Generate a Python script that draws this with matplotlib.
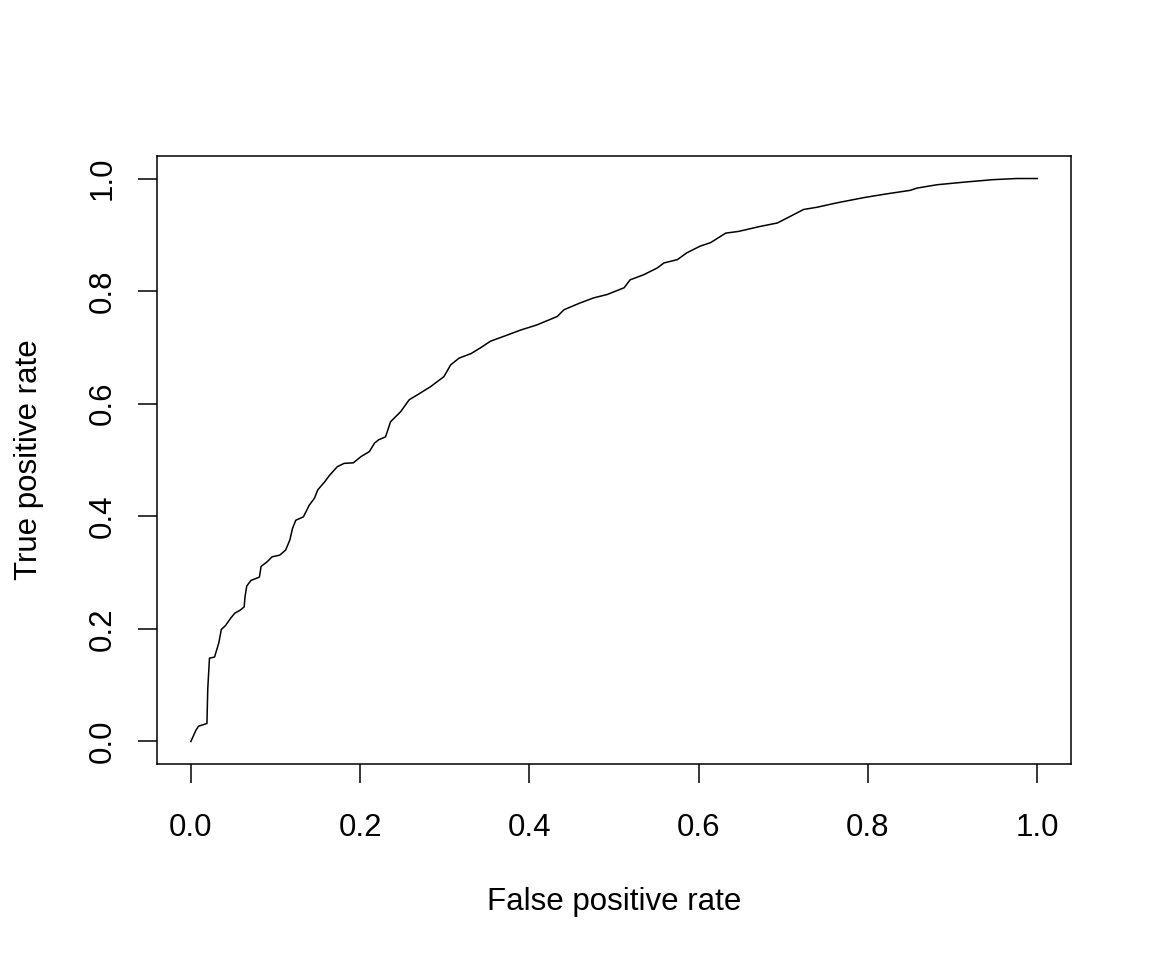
import numpy as np
import matplotlib
matplotlib.use("Agg")
import matplotlib.pyplot as plt

plt.rcParams['font.family'] = ['Liberation Sans', 'DejaVu Sans']

# ROC curve points
fpr = [0.000, 0.006, 0.009, 0.019, 0.020, 0.022, 0.028, 0.030, 0.033, 0.036,
       0.041, 0.047, 0.052, 0.058, 0.063, 0.064, 0.066, 0.071, 0.081, 0.083,
       0.090, 0.096, 0.105, 0.112, 0.117, 0.120, 0.124, 0.133, 0.140, 0.146,
       0.150, 0.158, 0.164, 0.173, 0.181, 0.192, 0.201, 0.211, 0.217, 0.222,
       0.230, 0.236, 0.248, 0.258, 0.268, 0.283, 0.299, 0.307, 0.317, 0.331,
       0.342, 0.354, 0.374, 0.390, 0.409, 0.433, 0.441, 0.460, 0.476, 0.492,
       0.512, 0.519, 0.535, 0.551, 0.559, 0.575, 0.586, 0.602, 0.614, 0.632,
       0.647, 0.673, 0.693, 0.706, 0.724, 0.740, 0.764, 0.795, 0.819, 0.850,
       0.858, 0.882, 0.917, 0.948, 0.976, 1.000]
tpr = [0.000, 0.020, 0.027, 0.032, 0.094, 0.148, 0.150, 0.160, 0.175, 0.199,
       0.206, 0.219, 0.228, 0.233, 0.239, 0.257, 0.276, 0.286, 0.292, 0.311,
       0.319, 0.328, 0.331, 0.340, 0.358, 0.378, 0.393, 0.399, 0.420, 0.432,
       0.447, 0.461, 0.473, 0.488, 0.494, 0.495, 0.506, 0.515, 0.530, 0.536,
       0.541, 0.568, 0.586, 0.607, 0.616, 0.630, 0.648, 0.669, 0.681, 0.689,
       0.699, 0.711, 0.722, 0.731, 0.740, 0.755, 0.767, 0.779, 0.788, 0.794,
       0.806, 0.820, 0.829, 0.841, 0.850, 0.856, 0.868, 0.880, 0.886, 0.903,
       0.906, 0.915, 0.921, 0.931, 0.945, 0.949, 0.957, 0.966, 0.972, 0.979,
       0.983, 0.989, 0.994, 0.998, 1.000, 1.000]
ticks = [0.0, 0.2, 0.4, 0.6, 0.8, 1.0]
tick_labels = ['0.0', '0.2', '0.4', '0.6', '0.8', '1.0']

fig = plt.figure(figsize=(11.52, 9.6), dpi=100)
ax = fig.add_axes([157/1152, 1 - 764/960, (1071 - 157)/1152, (764 - 156)/960])

ax.plot(fpr, tpr, color='black', lw=1.1)

ax.set_xlim(-0.04, 1.04)
ax.set_ylim(-0.04, 1.04)
ax.set_xticks(ticks)
ax.set_xticklabels(tick_labels)
ax.set_yticks(ticks)
ax.set_yticklabels(tick_labels, rotation=90, va='center')

ax.tick_params(axis='both', length=14, width=1.1, labelsize=22.5, direction='out')
ax.tick_params(axis='x', pad=21)
ax.tick_params(axis='y', pad=14)
for s in ax.spines.values():
    s.set_linewidth(1.1)

ax.set_xlabel('False positive rate', fontsize=22.5, labelpad=32)
ax.set_ylabel('True positive rate', fontsize=22.5, labelpad=32)

fig.savefig('out.png', dpi=100, facecolor='white')
